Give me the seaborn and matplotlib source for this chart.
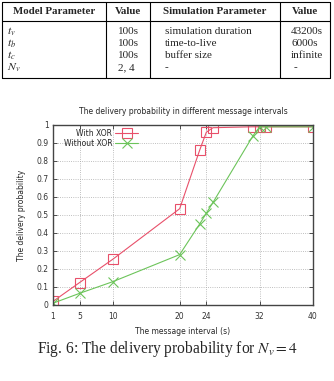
import numpy as np
import matplotlib
matplotlib.use('Agg')
import matplotlib.pyplot as plt
from matplotlib.lines import Line2D
import seaborn as sns

# message interval (s) and delivery probability
intervals = [1, 5, 10, 20, 23, 24, 25, 31, 32, 33, 40]
with_xor = [0.02, 0.125, 0.255, 0.535, 0.86, 0.96, 0.985, 0.99, 0.99, 0.99, 0.99]
without_xor = [0.01, 0.065, 0.13, 0.28, 0.45, 0.51, 0.57, 0.94, 0.99, 0.99, 0.99]
x_ticks = [1, 5, 10, 20, 24, 32, 40]
y_ticks = [0, 0.1, 0.2, 0.3, 0.4, 0.5, 0.6, 0.7, 0.8, 0.9, 1]
y_ticklabels = ['0', '0.1', '0.2', '0.3', '0.4', '0.5', '0.6', '0.7', '0.8', '0.9', '1']

# parameter table above the figure
table_header = ['Model Parameter', 'Value', 'Simulation Parameter', 'Value']
model_params = ['$t_v$', '$t_b$', '$t_c$', '$N_v$']
model_values = ['100s', '100s', '100s', '2, 4']
sim_params = ['simulation duration', 'time-to-live', 'buffer size', '-']
sim_values = ['43200s', '6000s', 'infinite', '-']

sns.set_style('ticks')
plt.rcParams['font.family'] = ['DejaVu Sans']
plt.rcParams['mathtext.fontset'] = 'stix'

W, H = 334, 381
fig = plt.figure(figsize=(W / 100, H / 100), dpi=100)

## table
serif = 'Liberation Serif'
def fx(px):
    return px / W
def fy(py):
    return 1 - py / H

for yy in [2, 21, 78]:
    fig.add_artist(Line2D([fx(2), fx(330)], [fy(yy), fy(yy)], color='black', lw=0.8))
for xx in [2, 106, 150, 280, 330]:
    fig.add_artist(Line2D([fx(xx), fx(xx)], [fy(2), fy(78)], color='black', lw=0.8))

head_x = [54, 128, 215, 305]
for hx, txt in zip(head_x, table_header):
    fig.text(fx(hx), fy(12), txt, ha='center', va='center', family=serif,
             fontsize=7.8, fontweight='bold')

row_y = [32, 44, 56, 68]
for i, ry in enumerate(row_y):
    fig.text(fx(7), fy(ry), model_params[i], ha='left', va='center', fontsize=8.5)
    fig.text(fx(118), fy(ry), model_values[i], ha='left', va='center', family=serif, fontsize=8)
    fig.text(fx(165), fy(ry), sim_params[i], ha='left', va='center', family=serif, fontsize=8)
    fig.text(fx(291) if sim_values[i] != '-' else fx(294), fy(ry), sim_values[i],
             ha='left', va='center', family=serif, fontsize=8)

## chart
ax = fig.add_axes([53 / W, 1 - 305 / H, 260 / W, 180 / H])
red = '#e8506a'
green = '#6cc45a'
sns.lineplot(x=intervals, y=with_xor, ax=ax, color=red, lw=0.8, marker='s', markersize=7,
             markerfacecolor='none', markeredgecolor=red, markeredgewidth=0.8, label='With XOR')
sns.lineplot(x=intervals, y=without_xor, ax=ax, color=green, lw=0.8, marker='x', markersize=7,
             markeredgecolor=green, markeredgewidth=0.8, label='Without XOR')

fs = 5.5
ax.set_xlim(1, 40)
ax.set_ylim(0, 1)
ax.set_xticks(x_ticks)
ax.set_yticks(y_ticks)
ax.set_yticklabels(y_ticklabels)
ax.tick_params(direction='in', labelsize=fs, length=3, width=0.6, colors='#333333',
               top=True, right=True, pad=3)
ax.tick_params(axis='x', pad=5)
ax.grid(True, linestyle=':', color='#aaaaaa', lw=0.6)
for sp in ax.spines.values():
    sp.set_color('#444444')
    sp.set_linewidth(1.0)

ax.set_title('The delivery probability in different message intervals', fontsize=fs, pad=8)
ax.set_xlabel('The message interval (s)', fontsize=fs, labelpad=4)
ax.set_ylabel('The delivery probability', fontsize=fs, labelpad=8)

leg = ax.legend(loc='upper left', markerfirst=False, frameon=False, fontsize=fs,
                handlelength=3, borderaxespad=0.3, labelspacing=0.15, handletextpad=0.4,
                bbox_to_anchor=(0.02, 1.01))
for t in leg.get_texts():
    t.set_ha('right')

## caption
fig.text(fx(168), fy(349), 'Fig. 6: The delivery probability for $N_v = 4$', ha='center',
         va='center', family=serif, fontsize=11.2)

fig.savefig('out.png', dpi=100)
